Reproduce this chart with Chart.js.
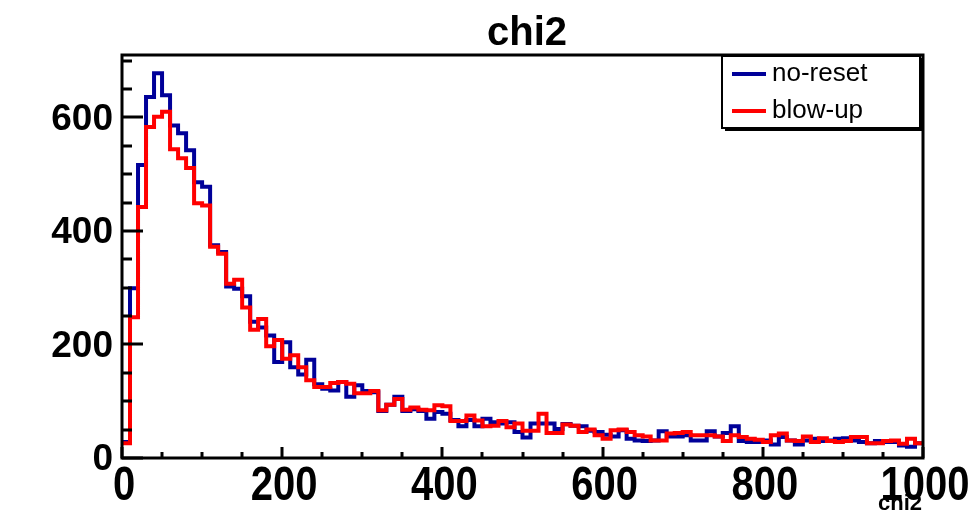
<!DOCTYPE html>
<html>
<head>
<meta charset="utf-8">
<script src="https://cdn.jsdelivr.net/npm/chart.js@4.4.0/dist/chart.umd.min.js"></script>
<style>
  html, body { margin: 0; padding: 0; background: #fff; }
  #wrap { width: 974px; height: 514px; }
</style>
</head>
<body>
<div id="wrap"><canvas id="chart-chi2" width="974" height="514"></canvas></div>
<script>
// histogram: 100 bins of width 10 between 0 and 1000
const xMin = 0;
const xMax = 1000;
const binWidth = 10;
const yMax = 710;

const noReset = [
  28, 299, 516, 636, 678, 639, 586, 572, 542, 486,
  478, 375, 363, 302, 298, 285, 240, 230, 216, 169,
  204, 160, 147, 173, 130, 122, 119, 134, 108, 128,
  118, 116, 83, 94, 108, 83, 86, 83, 69, 81,
  78, 67, 56, 67, 56, 69, 63, 61, 63, 46,
  36, 61, 61, 61, 51, 60, 57, 56, 48, 46,
  41, 38, 49, 34, 31, 30, 31, 47, 38, 38,
  40, 31, 31, 47, 38, 44, 56, 30, 28, 28,
  31, 24, 37, 31, 24, 31, 34, 30, 31, 34,
  35, 31, 28, 26, 30, 28, 28, 22, 20, 26
];
const blowUp = [
  26, 248, 442, 583, 601, 610, 544, 528, 511, 449,
  445, 372, 360, 307, 314, 265, 226, 245, 197, 208,
  175, 181, 160, 137, 125, 125, 132, 134, 131, 114,
  114, 118, 84, 94, 104, 85, 89, 85, 84, 93,
  91, 65, 65, 75, 66, 56, 57, 65, 54, 61,
  48, 48, 78, 44, 44, 59, 57, 46, 50, 40,
  34, 49, 50, 46, 40, 38, 31, 31, 43, 44,
  46, 40, 40, 40, 38, 30, 40, 37, 34, 32,
  28, 40, 43, 31, 30, 38, 28, 35, 30, 28,
  30, 37, 37, 26, 26, 30, 31, 25, 34, 26
];

const xTicks = [0, 200, 400, 600, 800, 1000];
const yTicks = [0, 200, 400, 600];
const minorStep = 50;

// turn bin contents into step points at the bin low edges (+ closing edge)
function toSteps(values) {
  const pts = values.map((v, i) => ({ x: xMin + i * binWidth, y: v }));
  pts.push({ x: xMin + values.length * binWidth, y: values[values.length - 1] });
  return pts;
}

const series = [
  { label: 'no-reset', values: noReset, color: '#000099', order: 1 },
  { label: 'blow-up', values: blowUp, color: '#ff0000', order: 0 }
];

// ROOT-like frame, inward ticks, labels and legend box
const rootStyle = {
  id: 'rootStyle',
  afterDraw(chart) {
    const ctx = chart.ctx;
    const area = chart.chartArea;
    const xs = chart.scales.x;
    const ys = chart.scales.y;
    ctx.save();
    ctx.strokeStyle = '#000';
    ctx.fillStyle = '#000';

    // frame
    ctx.lineWidth = 3;
    ctx.strokeRect(area.left, area.top, area.right - area.left, area.bottom - area.top);

    // y ticks
    ctx.lineWidth = 3;
    ctx.beginPath();
    for (let v = 0; v <= yMax; v += minorStep) {
      const py = Math.round(ys.getPixelForValue(v));
      const len = yTicks.includes(v) ? 21 : 10;
      ctx.moveTo(area.left, py);
      ctx.lineTo(area.left + len, py);
    }
    // x ticks
    for (let v = xMin; v <= xMax; v += minorStep) {
      const px = Math.round(xs.getPixelForValue(v));
      const len = xTicks.includes(v) ? 11 : 6;
      ctx.moveTo(px, area.bottom);
      ctx.lineTo(px, area.bottom - len);
    }
    ctx.stroke();

    // y labels
    ctx.font = 'bold 37px "Liberation Sans", Arial, sans-serif';
    ctx.textAlign = 'right';
    ctx.textBaseline = 'middle';
    yTicks.forEach(v => {
      ctx.fillText(String(v), area.left - 9, ys.getPixelForValue(v) + 2);
    });

    // x labels (slightly stretched vertically like the ROOT output)
    ctx.font = 'bold 40px "Liberation Sans", Arial, sans-serif';
    ctx.textAlign = 'center';
    ctx.textBaseline = 'alphabetic';
    xTicks.forEach(v => {
      ctx.save();
      ctx.translate(xs.getPixelForValue(v) + 2, area.bottom + 42);
      ctx.scale(1, 1.2);
      ctx.fillText(String(v), 0, 0);
      ctx.restore();
    });

    // axis title
    ctx.font = 'bold 22px "Liberation Sans", Arial, sans-serif';
    ctx.textAlign = 'right';
    ctx.fillText('chi2', area.right - 1, 510);

    // title
    ctx.font = 'bold 40px "Liberation Sans", Arial, sans-serif';
    ctx.textAlign = 'center';
    ctx.fillText('chi2', 527, 45);

    // legend box with shadow
    const lx = 722, ly = 56, lw = 198, lh = 72;
    ctx.fillRect(lx + 3, ly + lh, lw, 3);
    ctx.fillRect(lx + lw, ly + 2, 3, lh + 1);
    ctx.fillStyle = '#fff';
    ctx.fillRect(lx, ly, lw, lh);
    ctx.lineWidth = 2;
    ctx.strokeRect(lx, ly, lw, lh);

    ctx.font = '26px "Liberation Sans", Arial, sans-serif';
    ctx.textAlign = 'left';
    ctx.textBaseline = 'middle';
    series.forEach((s, i) => {
      const cy = 74 + i * 37;
      ctx.strokeStyle = s.color;
      ctx.lineWidth = 4;
      ctx.beginPath();
      ctx.moveTo(732, cy);
      ctx.lineTo(766, cy);
      ctx.stroke();
      ctx.fillStyle = '#000';
      ctx.fillText(s.label, 772, cy);
    });
    ctx.restore();
  }
};

const ctx = document.getElementById('chart-chi2');
const chart = new Chart(ctx, {
  type: 'line',
  data: {
    datasets: series.map(s => ({
      label: s.label,
      data: toSteps(s.values),
      borderColor: s.color,
      backgroundColor: s.color,
      borderWidth: 4,
      stepped: 'before',
      pointRadius: 0,
      fill: false,
      order: s.order
    }))
  },
  options: {
    responsive: false,
    animation: false,
    layout: {
      padding: { left: 122, right: 51, top: 55, bottom: 56 }
    },
    scales: {
      x: { type: 'linear', min: xMin, max: xMax, display: false },
      y: { type: 'linear', min: 0, max: yMax, display: false }
    },
    plugins: {
      legend: { display: false },
      title: { display: false },
      tooltip: { enabled: false }
    }
  },
  plugins: [rootStyle]
});
</script>
</body>
</html>
